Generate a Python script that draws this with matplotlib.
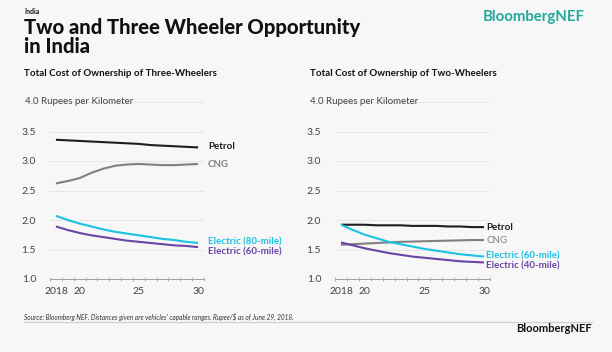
import matplotlib.pyplot as plt
import numpy as np

plt.rcParams["font.family"] = ["Lato", "DejaVu Sans"]

BG = "#f7f7f7"

years = np.arange(2018, 2031)

# three-wheelers, rupees per km
three_petrol = [3.36, 3.35, 3.34, 3.33, 3.32, 3.31, 3.30, 3.29, 3.27, 3.26, 3.25, 3.24, 3.23]
three_cng = [2.62, 2.66, 2.71, 2.80, 2.87, 2.92, 2.94, 2.95, 2.94, 2.93, 2.93, 2.94, 2.95]
three_e80 = [2.07, 2.00, 1.94, 1.89, 1.84, 1.80, 1.77, 1.74, 1.71, 1.68, 1.66, 1.63, 1.61]
three_e60 = [1.89, 1.83, 1.78, 1.74, 1.71, 1.68, 1.65, 1.63, 1.61, 1.59, 1.57, 1.56, 1.54]

# two-wheelers, rupees per km
two_petrol = [1.92, 1.92, 1.92, 1.91, 1.91, 1.91, 1.90, 1.90, 1.90, 1.89, 1.89, 1.88, 1.88]
two_cng = [1.58, 1.59, 1.60, 1.61, 1.62, 1.63, 1.635, 1.64, 1.645, 1.65, 1.655, 1.66, 1.66]
two_e60 = [1.92, 1.83, 1.75, 1.69, 1.63, 1.59, 1.55, 1.51, 1.48, 1.45, 1.42, 1.40, 1.38]
two_e40 = [1.62, 1.57, 1.52, 1.48, 1.44, 1.41, 1.38, 1.36, 1.34, 1.32, 1.30, 1.29, 1.28]

yticks = [1.0, 1.5, 2.0, 2.5, 3.0, 3.5, 4.0]
xtick_years = [2018, 2020, 2025, 2030]
xtick_labels = ["2018", "20", "25", "30"]

C_PETROL = "#1e1e1e"
C_CNG = "#808080"
C_CYAN = "#1cc2e3"
C_PURPLE = "#6a44a6"

fig = plt.figure(figsize=(6.12, 3.52), dpi=100)
fig.patch.set_facecolor(BG)


def panel(rect, series, title, title_x):
    ax = fig.add_axes(rect)
    ax.set_facecolor(BG)
    ax.set_xlim(2017.5, 2030.5)
    ax.set_ylim(1.0, 4.0)
    for s in ["top", "right", "left"]:
        ax.spines[s].set_visible(False)
    ax.spines["bottom"].set_color("#a0a0a0")
    ax.spines["bottom"].set_linewidth(0.7)

    for y in yticks[1:]:
        ax.axhline(y, color="#e4e4e4", lw=0.6, zorder=0)

    ax.set_yticks(yticks[:-1])
    ax.set_yticklabels([f"{v:.1f}" for v in yticks[:-1]])
    ax.tick_params(axis="y", length=0, pad=10, labelsize=7.5, labelcolor="#444444")
    ax.text(-0.16, 4.0, f"{yticks[-1]:.1f} Rupees per Kilometer", transform=ax.get_yaxis_transform(),
            ha="left", va="center", fontsize=7, color="#444444")

    ax.set_xticks(xtick_years)
    ax.set_xticklabels(xtick_labels)
    ax.set_xticks(np.arange(2017.5, 2031, 1.0), minor=True)
    ax.tick_params(axis="x", which="major", length=0, pad=6, labelsize=7.5, labelcolor="#444444")
    ax.tick_params(axis="x", which="minor", length=2.5, direction="inout", color="#a0a0a0", width=0.6)

    for vals, color, label, weight, off in series:
        ax.plot(years, vals, color=color, lw=1.5, solid_capstyle="butt", clip_on=False)
        ax.annotate(label, xy=(years[-1], vals[-1]), xytext=off, textcoords="offset pixels",
                    ha="left", va="center", fontsize=7, fontweight=weight, color=color)

    fig.text(title_x, 1 - 73 / 352, title, ha="left", va="center", fontsize=7,
             fontweight="bold", color="#111111")
    return ax


panel([50 / 612, 73 / 352, 154 / 612, 177 / 352],
      [(three_petrol, C_PETROL, "Petrol", "bold", (10, 1)),
       (three_cng, C_CNG, "CNG", "bold", (10, -1)),
       (three_e80, C_CYAN, "Electric (80-mile)", "bold", (10, 1)),
       (three_e60, C_PURPLE, "Electric (60-mile)", "bold", (10, -5))],
      "Total Cost of Ownership of Three-Wheelers", 24 / 612)

panel([335 / 612, 73 / 352, 155 / 612, 177 / 352],
      [(two_petrol, C_PETROL, "Petrol", "bold", (2, 0)),
       (two_cng, C_CNG, "CNG", "normal", (2, 0)),
       (two_e60, C_CYAN, "Electric (60-mile)", "bold", (2, 1)),
       (two_e40, C_PURPLE, "Electric (40-mile)", "bold", (2, -3))],
      "Total Cost of Ownership of Two-Wheelers", 310 / 612)

# header
fig.text(24 / 612, 1 - 12 / 352, "India", fontsize=5, fontweight="bold", color="#111111",
         ha="left", va="center")
fig.text(24 / 612, 1 - 53 / 352, "Two and Three Wheeler Opportunity\nin India", fontsize=14.6,
         fontweight="black", color="#111111", ha="left", va="baseline", linespacing=1.0)
fig.text(585 / 612, 1 - 17 / 352, "BloombergNEF", fontsize=10.8, fontweight="bold",
         color="#22a99b", ha="right", va="center")

# footer
fig.text(24 / 612, 1 - 317 / 352,
         "Source: Bloomberg NEF. Distances given are vehicles' capable ranges. Rupee/\\$ as of June 29, 2018.",
         fontsize=4.7, style="italic", color="#333333", ha="left", va="center")
fig.add_artist(plt.Line2D([24 / 612, 592 / 612], [1 - 322 / 352] * 2, color="#cfcfe0", lw=0.9))
fig.text(592 / 612, 1 - 329 / 352, "BloombergNEF", fontsize=8, fontweight="bold",
         color="#111111", ha="right", va="center")

fig.savefig("out.png", dpi=100, facecolor=BG)
